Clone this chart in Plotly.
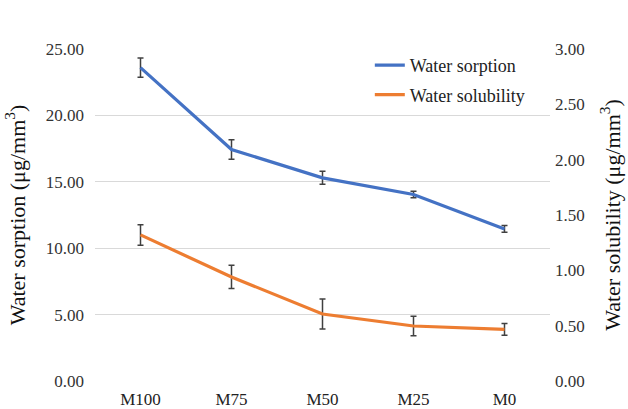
import plotly.graph_objects as go

categories = ["M100", "M75", "M50", "M25", "M0"]
sorption = [23.6, 17.43, 15.3, 14.04, 11.45]
sorption_err = [0.73, 0.74, 0.49, 0.25, 0.25]
solubility = [1.32, 0.94, 0.605, 0.497, 0.467]
solubility_err = [0.093, 0.105, 0.136, 0.087, 0.053]
left_ticks = [0, 5, 10, 15, 20, 25]
right_ticks = [0, 0.5, 1.0, 1.5, 2.0, 2.5, 3.0]

FONT = "Liberation Serif"
ERRC = "#404040"

fig = go.Figure()
fig.add_trace(go.Scatter(
    x=categories, y=sorption, name="Water sorption", mode="lines",
    line=dict(color="#4472C4", width=3.2), legendgroup="a",
    error_y=dict(type="data", array=sorption_err, visible=True,
                 color=ERRC, thickness=1.5, width=3),
))
fig.add_trace(go.Scatter(
    x=categories, y=solubility, name="Water solubility", mode="lines",
    line=dict(color="#ED7D31", width=3.2), yaxis="y2", legendgroup="b",
    error_y=dict(type="data", array=solubility_err, visible=True,
                 color=ERRC, thickness=1.5, width=3),
))

fig.update_layout(
    width=628, height=409,
    margin=dict(l=95, r=78, t=49, b=28),
    paper_bgcolor="white", plot_bgcolor="white",
    font=dict(family=FONT, size=17, color="#333333"),
    showlegend=True,
    legend=dict(x=0.604, y=1.006, xanchor="left", yanchor="top",
                bgcolor="rgba(0,0,0,0)", font=dict(size=18, color="#222222"),
                tracegroupgap=3),
    xaxis=dict(type="category", range=[-0.5, 4.5], showgrid=False,
               showline=False, zeroline=False, ticks="", automargin=False,
               ticklabelstandoff=6,
               tickfont=dict(size=17, color="#222222")),
    yaxis=dict(range=[0, 25], tickvals=left_ticks, tickformat=".2f",
               showgrid=True, gridcolor="#d9d9d9", gridwidth=1,
               zeroline=False, showline=False, ticks="", automargin=False,
               ticklabelstandoff=10,
               tickfont=dict(size=17, color="#333333"),
               title=dict(text="Water sorption (μg/mm<sup>3</sup>)",
                          font=dict(size=22, color="#111111"), standoff=14)),
    yaxis2=dict(range=[0, 3], tickvals=right_ticks, tickformat=".2f",
                overlaying="y", side="right", showgrid=False,
                zeroline=False, showline=False, ticks="", automargin=False,
                ticklabelstandoff=4,
                tickfont=dict(size=17, color="#333333"),
                title=dict(text="Water solubility (μg/mm<sup>3</sup>)",
                           font=dict(size=22, color="#111111"), standoff=20)),
)

fig.write_html("out.html",
               config={"displayModeBar": False},
               post_script="document.body.style.margin='0';document.body.style.overflow='hidden';")
